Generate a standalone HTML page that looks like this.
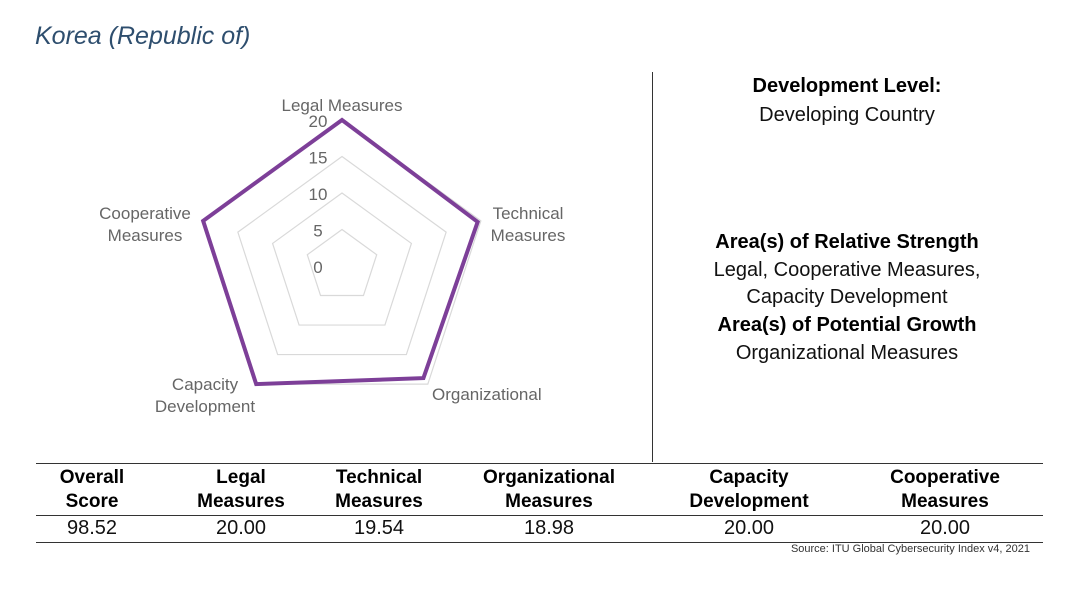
<!DOCTYPE html>
<html><head><meta charset="utf-8"><style>
body{margin:0;background:#fff;font-family:"Liberation Sans",sans-serif;}
#wrap{position:relative;width:1080px;height:595px;overflow:hidden;}
.t{position:absolute;white-space:nowrap;}
.c{transform:translateX(-50%);text-align:center;}
.rb{font-weight:bold;font-size:20px;color:#000;}
.rn{font-size:20px;color:#111;}
.th{font-weight:bold;font-size:19px;line-height:24px;color:#000;}
.tv{font-size:20px;color:#111;}
.hl{position:absolute;height:1px;background:#333;left:36px;width:1007px;}
</style></head><body>
<div id="wrap">
<div class="t" style="left:35px;top:22px;font-size:25px;font-style:italic;color:#2e4e6e;">Korea (Republic of)</div>
<svg id="radar" width="652" height="460" style="position:absolute;left:0;top:0"></svg>
<div style="position:absolute;left:652px;top:72px;width:1px;height:390px;background:#333"></div>
<div class="t c rb" style="left:847px;top:75px">Development Level:</div>
<div class="t c rn" style="left:847px;top:104px">Developing Country</div>
<div class="t c rb" style="left:847px;top:231px">Area(s) of Relative Strength</div>
<div class="t c rn" style="left:847px;top:259px">Legal, Cooperative Measures,</div>
<div class="t c rn" style="left:847px;top:286px">Capacity Development</div>
<div class="t c rb" style="left:847px;top:314px">Area(s) of Potential Growth</div>
<div class="t c rn" style="left:847px;top:342px">Organizational Measures</div>
<div class="hl" style="top:463px"></div>
<div class="hl" style="top:515px"></div>
<div class="hl" style="top:542px"></div>
<div id="tbl"></div>
<div class="t" style="right:50px;top:543px;font-size:11px;color:#333">Source: ITU Global Cybersecurity Index v4, 2021</div>
</div>
<script>
const categories=["Legal Measures","Technical Measures","Organizational","Capacity Development","Cooperative Measures"];
const values=[20,19.54,18.98,20,20];
const ringTicks=[0,5,10,15,20];
const headers=[["Overall","Score"],["Legal","Measures"],["Technical","Measures"],["Organizational","Measures"],["Capacity","Development"],["Cooperative","Measures"]];
const tableValues=["98.52","20.00","19.54","18.98","20.00","20.00"];
const NS="http://www.w3.org/2000/svg";
const svg=document.getElementById('radar');
const cx=342,cy=266,R=146,maxV=20;
function pt(i,v){const a=-Math.PI/2+i*2*Math.PI/5;const r=v/maxV*R;return [cx+r*Math.cos(a),cy+r*Math.sin(a)];}
function mk(tag,at){const e=document.createElementNS(NS,tag);for(const k in at)e.setAttribute(k,at[k]);svg.appendChild(e);return e;}
ringTicks.forEach(t=>{if(t===0)return;
 const p=mk('polygon',{points:categories.map((c,i)=>pt(i,t).join(',')).join(' '),fill:'none',stroke:'#d9d9d9','stroke-width':1.2});
 
 });
ringTicks.forEach(t=>{const y=cy-t/maxV*R;
 const tx=mk('text',{x:cx-24,y:y+7,'font-size':17,fill:'#666','text-anchor':'middle','font-family':'Liberation Sans'});tx.textContent=t;
 
 });
const s=mk('polygon',{points:values.map((v,i)=>pt(i,v).join(',')).join(' '),fill:'none',stroke:'#7d3f98','stroke-width':4,'stroke-linejoin':'miter'});


const labelPos=[[342,105,'middle',[0]],[528,213,'middle',[0,22]],[432,394,'start',[0]],[205,384,'middle',[0,22]],[145,213,'middle',[0,22]]];
const labelLines=[["Legal Measures"],["Technical","Measures"],["Organizational"],["Capacity","Development"],["Cooperative","Measures"]];
labelLines.forEach((ls,i)=>{const [x,y,anc,off]=labelPos[i];
 ls.forEach((l,j)=>{const tx=mk('text',{x:x,y:y+off[j]+6,'font-size':17,fill:'#666','text-anchor':anc,'font-family':'Liberation Sans'});tx.textContent=l;
 
 });});
const centers=[92,241,379,549,749,945];
const tbl=document.getElementById('tbl');
headers.forEach((h,i)=>{const d=document.createElement('div');d.className='t c th';d.style.left=centers[i]+'px';d.style.top='466px';d.innerHTML=h.join('<br>');
 
 
 tbl.appendChild(d);
 const v=document.createElement('div');v.className='t c tv';v.style.left=centers[i]+'px';v.style.top='517px';v.textContent=tableValues[i];
 
 
 tbl.appendChild(v);});
</script>
</body></html>
